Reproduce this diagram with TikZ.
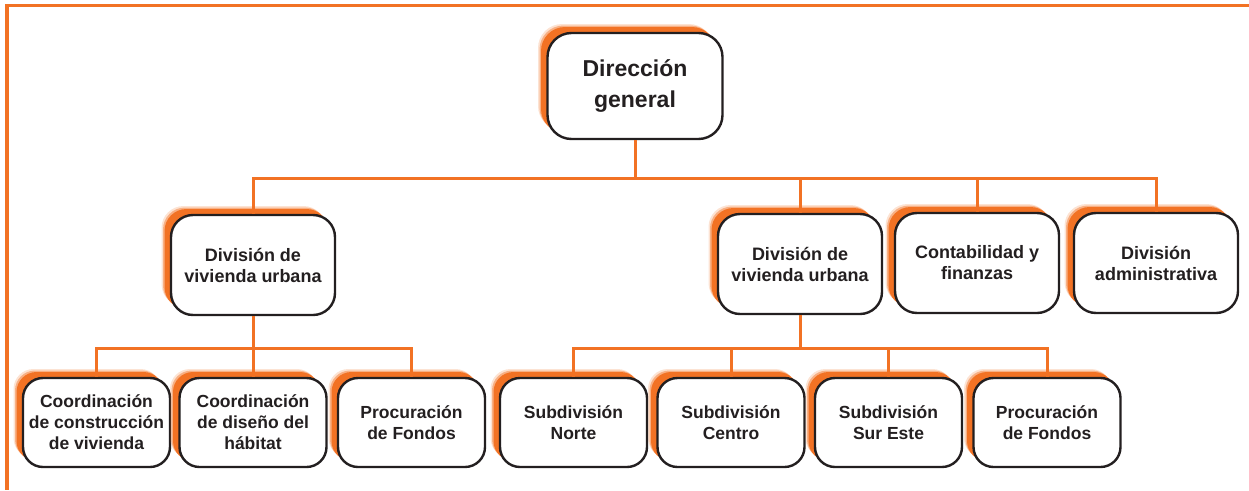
\documentclass[tikz,border=0pt]{standalone}
\usepackage{fontspec}
\setmainfont{Liberation Sans}
\usetikzlibrary{shadows}
\definecolor{org}{RGB}{242,114,36}
\definecolor{ink}{RGB}{35,31,32}
\tikzset{
  boxbase/.style={draw=ink, line width=2.4pt, fill=white, align=center, text=ink, inner sep=0pt,
    drop shadow={shadow xshift=-9.5pt, shadow yshift=9pt, fill=org, opacity=0.2},
    drop shadow={shadow xshift=-8pt, shadow yshift=7.5pt, fill=org, opacity=0.45},
    drop shadow={shadow xshift=-6.5pt, shadow yshift=6pt, fill=org, opacity=1}},
  topbox/.style={boxbase, rounded corners=24pt, minimum width=175pt, minimum height=106pt,
    font=\bfseries\fontsize{23}{30}\selectfont},
  midbox/.style={boxbase, rounded corners=22pt, minimum width=164pt, minimum height=100pt,
    font=\bfseries\fontsize{18}{21}\selectfont},
  lowbox/.style={boxbase, rounded corners=20pt, minimum width=147pt, minimum height=89pt,
    font=\bfseries\fontsize{17.5}{21}\selectfont},
  link/.style={draw=org, line width=3pt},
  frame/.style={draw=org, line width=3.2pt}
}
\begin{document}
\begin{tikzpicture}[x=1pt,y=-1pt]
\useasboundingbox (0,0) rectangle (1249,490);
% frame lines
\coordinate (fa) at (1249,5.5);
\coordinate (fb) at (7,5.5);
\coordinate (fc) at (7,490);
\draw[frame] (fa) -- (fb) -- (fc);

% nodes
\node[topbox] (top) at (635,86) {Dirección\\general};

\node[midbox] (l2a) at (253,265) {División de\\vivienda urbana};
\node[midbox] (l2b) at (800,264) {División de\\vivienda urbana};
\node[midbox] (l2c) at (977,263) {Contabilidad y\\finanzas};
\node[midbox] (l2d) at (1156,263) {División\\administrativa};

\node[lowbox] (c1) at (96.5,422.5) {Coordinación\\de construcción\\de vivienda};
\node[lowbox] (c2) at (253,422.5) {Coordinación\\de diseño del\\hábitat};
\node[lowbox] (c3) at (411.5,422.5) {Procuración\\de Fondos};

\node[lowbox] (n1) at (573.5,422.5) {Subdivisión\\Norte};
\node[lowbox] (n2) at (731,422.5) {Subdivisión\\Centro};
\node[lowbox] (n3) at (888.5,422.5) {Subdivisión\\Sur Este};
\node[lowbox] (n4) at (1047,422.5) {Procuración\\de Fondos};

% bus coordinates
\coordinate (busT) at (635,178);
\coordinate (busL) at (253,348);
\coordinate (busR) at (800,348);

% connectors
\draw[link] (top.south) -- (busT);
\draw[link] (l2a.north) |- (busT) -| (l2d.north);
\draw[link] (l2b.north) -- (l2b.north |- busT);
\draw[link] (l2c.north) -- (l2c.north |- busT);

\draw[link] (l2a.south) -- (c2.north);
\draw[link] (c1.north) |- (busL) -| (c3.north);

\draw[link] (l2b.south) -- (busR);
\draw[link] (n1.north) |- (busR) -| (n4.north);
\draw[link] (n2.north) -- (n2.north |- busR);
\draw[link] (n3.north) -- (n3.north |- busR);
\end{tikzpicture}
\end{document}
